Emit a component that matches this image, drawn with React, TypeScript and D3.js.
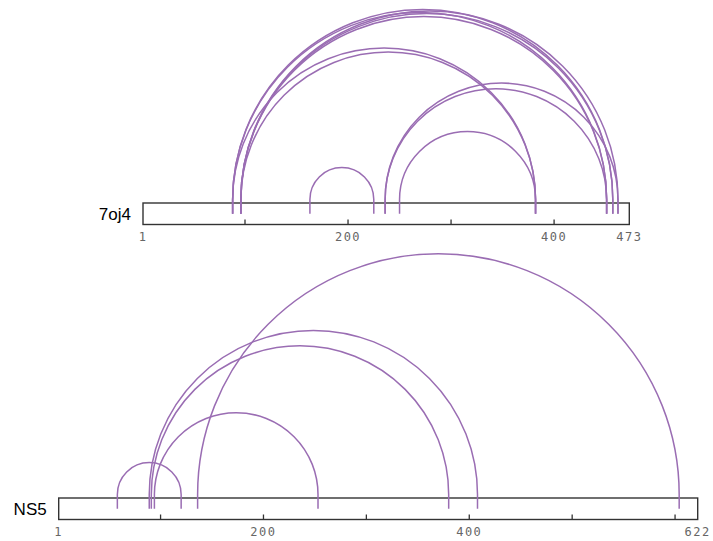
import React from "react";
import * as d3 from "d3";

const proteinNames = ["7oj4", "NS5"];
const proteinLengths = [473, 622];

// crosslinks (residue pairs)
const linkStart7oj4 = [163, 250, 88, 96, 236, 236, 88, 96, 88, 96, 96];
const linkEnd7oj4 = [225, 382, 382, 382, 462, 451, 457, 462, 451, 457, 451];
const linkStartNS5 = [58, 94, 91, 89, 136];
const linkEndNS5 = [120, 253, 380, 408, 604];

const tickMarks7oj4 = [100, 200, 300, 400];
const tickLabels7oj4 = [1, 200, 400, 473];
const tickMarksNS5 = [100, 200, 300, 400, 500, 600];
const tickLabelsNS5 = [1, 200, 400, 622];

const tracks = [
  {
    name: proteinNames[0],
    length: proteinLengths[0],
    starts: linkStart7oj4,
    ends: linkEnd7oj4,
    ticks: tickMarks7oj4,
    labels: tickLabels7oj4,
    x0: 143,
    x1: 629.3,
    top: 203,
  },
  {
    name: proteinNames[1],
    length: proteinLengths[1],
    starts: linkStartNS5,
    ends: linkEndNS5,
    ticks: tickMarksNS5,
    labels: tickLabelsNS5,
    x0: 58.7,
    x1: 697.7,
    top: 498,
  },
];

const BAR_H = 21.5;
const ARC_COLOR = "#9a6db3";

function Track({ t }: { t: (typeof tracks)[number] }) {
  const x = d3.scaleLinear().domain([1, t.length]).range([t.x0, t.x1]);
  const mid = t.top + BAR_H / 2;
  const base = t.top - 3.5;
  const bottom = t.top + BAR_H;
  const arcs = t.starts.map((s, i) => {
    const a = x(s);
    const b = x(t.ends[i]);
    const r = (b - a) / 2;
    const p = d3.path();
    p.moveTo(a, mid);
    p.lineTo(a, base);
    p.arc((a + b) / 2, base, r, Math.PI, 2 * Math.PI, false);
    p.lineTo(b, mid);
    return p.toString();
  });
  return (
    <g>
      <text
        x={t.x0 - 12}
        y={mid + 6}
        textAnchor="end"
        fontFamily="Liberation Sans, Arial, sans-serif"
        fontSize={17}
        fill="#000"
      >
        {t.name}
      </text>
      <rect
        x={t.x0}
        y={t.top}
        width={t.x1 - t.x0}
        height={BAR_H}
        fill="#fff"
        stroke="#333"
        strokeWidth={1.4}
      />
      {t.ticks.map((v) => (
        <line
          key={"t" + v}
          x1={x(v)}
          x2={x(v)}
          y1={bottom}
          y2={bottom - 5}
          stroke="#333"
          strokeWidth={1.3}
        />
      ))}
      {t.labels.map((v) => (
        <text
          key={"l" + v}
          x={x(v)}
          y={bottom + 16}
          textAnchor="middle"
          fontFamily="DejaVu Sans Mono, monospace"
          fontSize={12}
          letterSpacing={1.5}
          fill="#666"
        >
          {v}
        </text>
      ))}
      {arcs.map((d, i) => (
        <path key={"a" + i} d={d} fill="none" stroke={ARC_COLOR} strokeWidth={1.5} />
      ))}
    </g>
  );
}

export default function App() {
  return (
    <svg
      width={713}
      height={541}
      style={{ position: "absolute", left: 0, top: 0, background: "#fff" }}
    >
      {tracks.map((t) => (
        <Track key={t.name} t={t} />
      ))}
    </svg>
  );
}
